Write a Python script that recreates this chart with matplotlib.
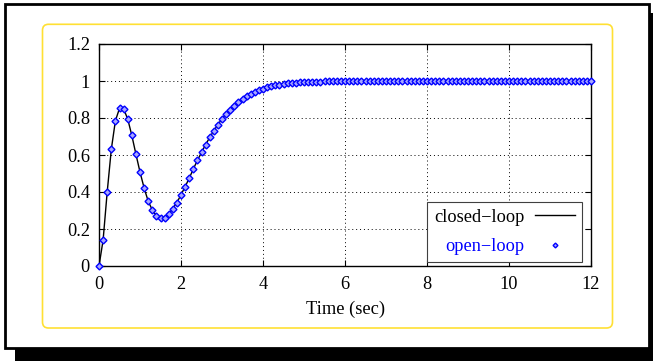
"""
Step response chart - closed-loop vs open-loop
"""

import numpy as np
import matplotlib
matplotlib.use('Agg')
import matplotlib.pyplot as plt
from matplotlib.patches import Rectangle, FancyBboxPatch

# sampled response, dt = 0.1 s from 0 to 12 s
response = [
    0.0, 0.14, 0.40, 0.63, 0.785, 0.852, 0.849, 0.795, 0.706, 0.605,
    0.508, 0.422, 0.350, 0.303, 0.272, 0.259, 0.261, 0.281, 0.310, 0.343,
    0.385, 0.429, 0.474, 0.524, 0.571, 0.614, 0.656, 0.695, 0.730, 0.764,
    0.795, 0.822, 0.845, 0.867, 0.886, 0.903, 0.917, 0.930, 0.941, 0.951,
    0.958, 0.965, 0.971, 0.976, 0.980, 0.984, 0.987, 0.989, 0.991, 0.993,
    0.994, 0.995, 0.996, 0.997, 0.997, 0.998, 0.998, 0.999, 0.999, 0.999,
    1.0, 1.0, 1.0, 1.0, 1.0, 1.0, 1.0, 1.0, 1.0, 1.0,
    1.0, 1.0, 1.0, 1.0, 1.0, 1.0, 1.0, 1.0, 1.0, 1.0,
    1.0, 1.0, 1.0, 1.0, 1.0, 1.0, 1.0, 1.0, 1.0, 1.0,
    1.0, 1.0, 1.0, 1.0, 1.0, 1.0, 1.0, 1.0, 1.0, 1.0,
    1.0, 1.0, 1.0, 1.0, 1.0, 1.0, 1.0, 1.0, 1.0, 1.0,
    1.0, 1.0, 1.0, 1.0, 1.0, 1.0, 1.0, 1.0, 1.0, 1.0,
    1.0,
]
time = np.linspace(0, 12, len(response))

xticks = [0, 2, 4, 6, 8, 10, 12]
yticks = [0, 0.2, 0.4, 0.6, 0.8, 1.0, 1.2]
ytick_labels = ['0', '0.2', '0.4', '0.6', '0.8', '1', '1.2']
labels = ['closed\u2212loop', 'open\u2212loop']

plt.rcParams['font.family'] = ['Liberation Serif', 'DejaVu Serif']
FS = 13.2
W, H = 653, 361

fig = plt.figure(figsize=(W / 100, H / 100), dpi=100)

# background frame: shadow, white box, rounded yellow border (pixel coords)
bg = fig.add_axes([0, 0, 1, 1])
bg.set_xlim(0, W)
bg.set_ylim(H, 0)
bg.axis('off')
bg.add_patch(Rectangle((15, 13), 700, 400, fc='black', ec='none'))
bg.add_patch(Rectangle((5.3, 3.5), 643.5, 344.8, fc='white', ec='black', lw=2))
bg.add_patch(FancyBboxPatch((42.5, 24.3), 570, 303.7,
                            boxstyle='round,pad=0,rounding_size=6',
                            fc='none', ec='#FFE033', lw=1.2))

ax = fig.add_axes([99 / W, (H - 266) / H, 492 / W, 222 / H])
ax.plot(time, response, color='black', lw=1.0, label=labels[0], zorder=3)
ax.plot(time, response, ls='none', marker='D', ms=3.5, mfc='#a8a8ff',
        mec='blue', mew=1.0, label=labels[1], zorder=4, clip_on=False)

ax.set_xlim(0, 12)
ax.set_ylim(0, 1.2)
ax.set_xticks(xticks)
ax.set_yticks(yticks)
ax.set_yticklabels(ytick_labels)
ax.tick_params(direction='in', length=4, width=0.8, top=True, right=True,
               labelsize=FS)
ax.tick_params(axis='x', pad=7.5)
ax.tick_params(axis='y', pad=6.5)
ax.grid(True, color='black', lw=0.7, linestyle=(0, (1, 3)))
for s in ax.spines.values():
    s.set_linewidth(1.0)
ax.set_xlabel('Time (sec)', fontsize=FS, labelpad=5.5)

leg = ax.legend(loc='lower right', bbox_to_anchor=((582 - 99) / 492, 4 / 222),
                borderaxespad=0, fancybox=False, framealpha=1, edgecolor='0.25',
                markerfirst=False, handlelength=2.2, handletextpad=0.55,
                borderpad=0.38, labelspacing=0.68, fontsize=FS, markerscale=0.7,
                labelcolor=['black', 'blue'])
leg.get_frame().set_linewidth(0.8)

fig.savefig('out.png', dpi=100, facecolor='white')
